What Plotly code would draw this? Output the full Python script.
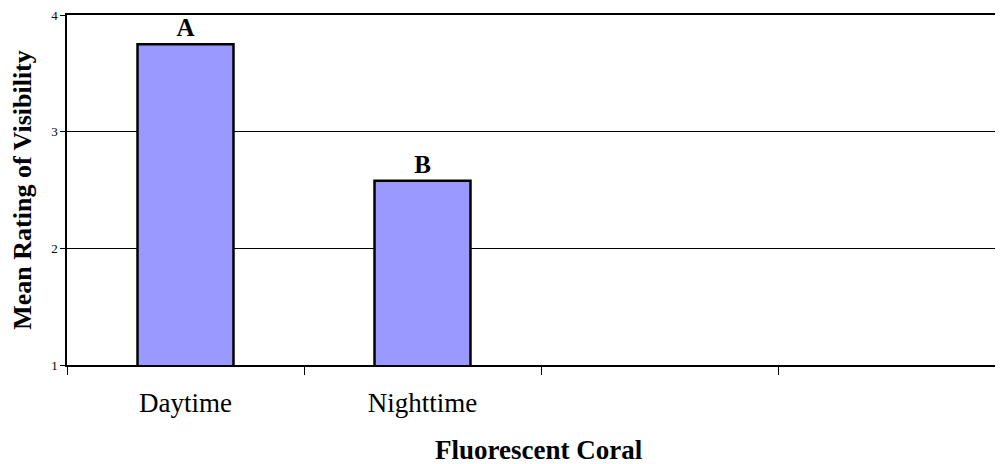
import plotly.graph_objects as go

categories = ["Daytime", "Nighttime", " ", "  "]
bar_categories = ["Daytime", "Nighttime"]
values = [3.75, 2.58]
letters = ["A", "B"]
y_ticks = [1, 2, 3, 4]

FONT = "Liberation Serif, Times New Roman, serif"

fig = go.Figure()
fig.add_trace(go.Bar(
    x=bar_categories, y=values,
    marker=dict(color="#9999FF", line=dict(color="black", width=2.5)),
    width=0.405,
    text=["<b>%s</b>" % t for t in letters], textposition="outside",
    textfont=dict(family=FONT, size=25, color="black"),
    cliponaxis=False,
))

fig.update_layout(
    width=1003, height=464,
    margin=dict(l=59, r=0, t=7, b=107, autoexpand=False),
    plot_bgcolor="white", paper_bgcolor="white",
    showlegend=False,
    font=dict(family=FONT, color="black"),
    annotations=[dict(
        text="<b>Fluorescent Coral</b>", x=0.5, xref="paper", y=-85 / 350, yref="paper",
        yanchor="middle", showarrow=False, font=dict(family=FONT, size=27, color="black"))],
)
fig.update_xaxes(
    type="category", categoryorder="array", categoryarray=categories,
    range=[-0.5, 3.5 - 4 / 237], automargin=False,
    tickson="boundaries", ticks="outside", ticklen=8, tickcolor="black", tickwidth=1,
    showline=True, linecolor="black", linewidth=1.5, mirror=True,
    showgrid=False, ticklabelstandoff=13,
    tickfont=dict(family=FONT, size=27, color="black"),
)
fig.update_yaxes(
    range=[1, 4], tickvals=y_ticks, ticks="outside", ticklen=5, tickcolor="black",
    showline=True, linecolor="black", linewidth=1.5, automargin=False,
    showgrid=True, gridcolor="black", gridwidth=1,
    ticklabeloverflow="allow",
    tickfont=dict(family=FONT, size=13, color="black"),
    title=dict(text="<b>Mean Rating of Visibility</b>", font=dict(family=FONT, size=26, color="black"), standoff=13),
)

fig.write_html("out.html")
